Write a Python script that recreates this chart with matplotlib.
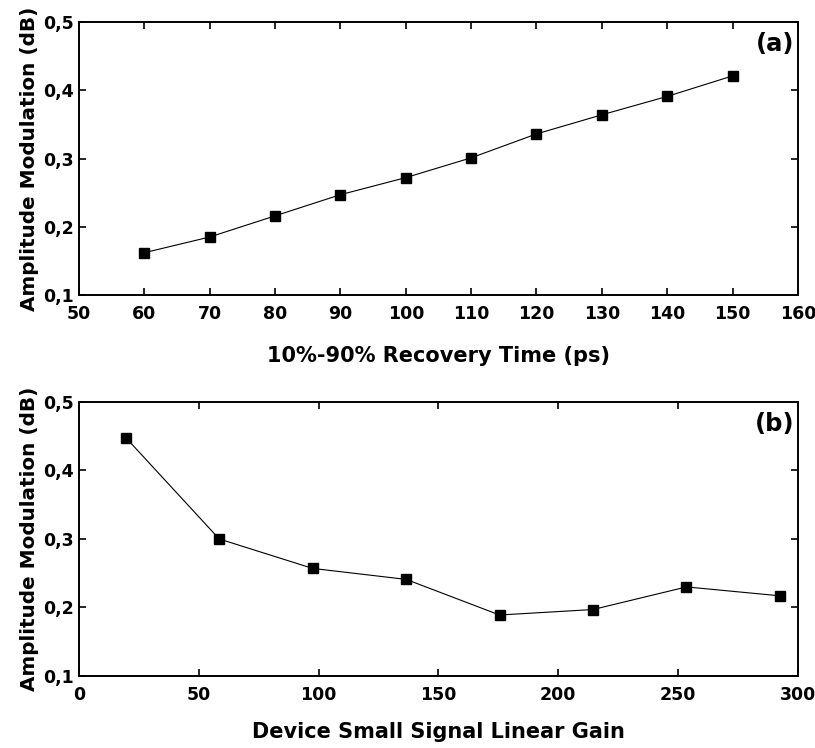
import numpy as np
import matplotlib
matplotlib.use("Agg")
import matplotlib.pyplot as plt

#-----------------------------------------------------------------------------

# (a) amplitude modulation vs 10%-90% recovery time
recovery_ps = [60, 70, 80, 90, 100, 110, 120, 130, 140, 150]
am_recovery = [0.162, 0.185, 0.216, 0.247, 0.272, 0.301, 0.336, 0.364, 0.391, 0.421]

# (b) amplitude modulation vs device small signal linear gain
gain = [19.5, 58.5, 97.5, 136.5, 175.5, 214.5, 253.5, 292.5]
am_gain = [0.448, 0.300, 0.257, 0.241, 0.189, 0.197, 0.230, 0.217]

ylabel = "Amplitude Modulation (dB)"

#-----------------------------------------------------------------------------

plt.rcParams["font.family"] = "DejaVu Sans"
plt.rcParams["font.weight"] = "bold"

fig = plt.figure(figsize=(8.15, 7.48), dpi=100)
ax1 = fig.add_axes([0.097, 0.6056, 0.882, 0.365])
ax2 = fig.add_axes([0.097, 0.0963, 0.882, 0.3663])


def style(ax, xlim, xticks, tag):
    ax.set_xlim(*xlim)
    ax.set_ylim(0.1, 0.5)
    ax.set_xticks(xticks)
    ax.set_yticks([0.1, 0.2, 0.3, 0.4, 0.5])
    ax.set_yticklabels(["0,1", "0,2", "0,3", "0,4", "0,5"])
    ax.tick_params(direction="in", top=True, right=True, length=5, width=1.2,
                   labelsize=12.5)
    ax.tick_params(axis="x", pad=7)
    ax.tick_params(axis="y", pad=4)
    for t in ax.get_xticklabels() + ax.get_yticklabels():
        t.set_fontweight("bold")
    for sp in ax.spines.values():
        sp.set_linewidth(1.4)
    ax.set_ylabel(ylabel, fontsize=14.4, fontweight="bold", labelpad=3)
    ax.text(0.995, 0.965, tag, transform=ax.transAxes, ha="right", va="top",
            fontsize=17.5, fontweight="bold")


ax1.plot(recovery_ps, am_recovery, "k-s", lw=0.8, ms=7.5)
style(ax1, (50, 160), np.arange(50, 161, 10), "(a)")
ax1.set_xlabel("10%-90% Recovery Time (ps)", fontsize=15, fontweight="bold",
               labelpad=17)

ax2.plot(gain, am_gain, "k-s", lw=0.8, ms=7.5)
style(ax2, (0, 300), np.arange(0, 301, 50), "(b)")
ax2.set_xlabel("Device Small Signal Linear Gain", fontsize=15, fontweight="bold",
               labelpad=13)

fig.savefig("out.png", dpi=100)
